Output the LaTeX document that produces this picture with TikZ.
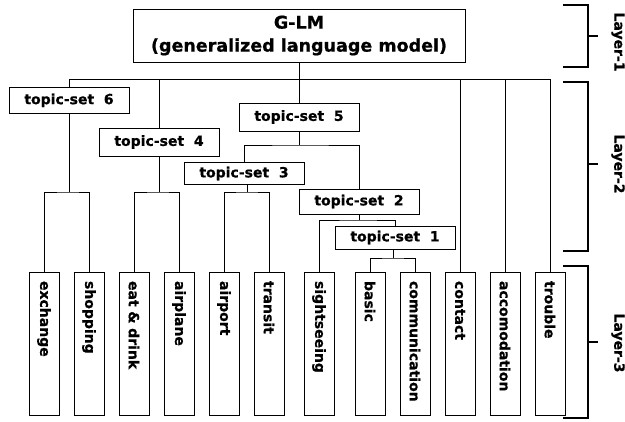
\documentclass[tikz,border=0pt]{standalone}
\usepackage{fontspec}
\setmainfont{DejaVu Sans}[BoldFeatures={FakeBold=0.8}]
\newcommand\glmfont{\fontsize{17.5}{23}\selectfont\bfseries}
\newcommand\tsfont{\fontsize{14}{16}\selectfont\bfseries}
\begin{document}
\begin{tikzpicture}[x=1pt,y=-1pt,
  box/.style={draw, line width=0.9pt, inner sep=0pt, minimum width=120pt, minimum height=26pt, font=\tsfont},
  leaf/.style={draw, line width=0.9pt, rotate=-90, inner xsep=9pt, inner ysep=0pt, text width=125pt, align=left, minimum height=30pt, font=\tsfont},
  link/.style={line width=0.9pt},
  brace/.style={line width=1.6pt},
  layer/.style={rotate=-90, inner sep=0pt, font=\tsfont}]
\useasboundingbox (0,0) rectangle (625,422);

% top model
\node[box, minimum width=332pt, minimum height=53pt, align=center, font=\glmfont] (glm) at (299,35.5) {G-LM\\(generalized language model)};

% topic sets
\node[box] (ts6) at (69,100.3) {topic-set\ \ 6};
\node[box, minimum height=28pt] (ts5) at (299,117) {topic-set\ \ 5};
\node[box, minimum height=28pt] (ts4) at (159,142) {topic-set\ \ 4};
\node[box, minimum height=22pt] (ts3) at (244,173.5) {topic-set\ \ 3};
\node[box, minimum height=25pt] (ts2) at (359,201.5) {topic-set\ \ 2};
\node[box, minimum height=23pt] (ts1) at (395,237.5) {topic-set\ \ 1};

% topics
\node[leaf] (exchange) at (44,343.5) {exchange};
\node[leaf] (shopping) at (89,343.5) {shopping};
\node[leaf] (eatdrink) at (134,343.5) {eat \& drink};
\node[leaf] (airplane) at (179,343.5) {airplane};
\node[leaf] (airport) at (224,343.5) {airport};
\node[leaf] (transit) at (269,343.5) {transit};
\node[leaf] (sightseeing) at (319,343.5) {sightseeing};
\node[leaf] (basic) at (370,343.5) {basic};
\node[leaf] (communication) at (415,343.5) {communication};
\node[leaf] (contact) at (460,343.5) {contact};
\node[leaf] (accomodation) at (505,343.5) {accomodation};
\node[leaf] (trouble) at (550,343.5) {trouble};

% branch points
\coordinate (bus) at (299,79);
\coordinate (f6) at (69,192);
\coordinate (f4) at (159,192);
\coordinate (f5) at (299,145);
\coordinate (f3) at (247,192);
\coordinate (f2) at (359,220);
\coordinate (f1) at (393,258);

% tree
\draw[link] (glm) -- (ts5);
\draw[link] (ts6) |- (bus) -| (trouble);
\draw[link] (ts4) |- (bus);
\draw[link] (contact) |- (bus);
\draw[link] (accomodation) |- (bus);
\draw[link] (ts6) -- (f6);
\draw[link] (exchange) |- (f6) -| (shopping);
\draw[link] (ts4) -- (f4);
\draw[link] (eatdrink) |- (f4) -| (airplane);
\draw[link] (ts5) -- (f5);
\draw[link] (ts3) |- (f5) -| (ts2);
\draw[link] (ts3.south -| f3) -- (f3);
\draw[link] (airport) |- (f3) -| (transit);
\draw[link] (ts2) -- (f2);
\draw[link] (sightseeing) |- (f2) -| (ts1);
\draw[link] (ts1.south -| f1) -- (f1);
\draw[link] (basic) |- (f1) -| (communication);

% layer brackets
\draw[brace] (563,5) -| (588,67) -- (563,67);
\draw[brace] (588,36) -- (598,36);
\draw[brace] (563,82) -| (588,251) -- (563,251);
\draw[brace] (588,164) -- (598,164);
\draw[brace] (563,266) -| (588,418) -- (563,418);
\draw[brace] (588,342) -- (598,342);
\node[layer] (l1) at (618,42) {Layer-1};
\node[layer] (l2) at (618,164) {Layer-2};
\node[layer] (l3) at (618,343) {Layer-3};
\end{tikzpicture}
\end{document}
